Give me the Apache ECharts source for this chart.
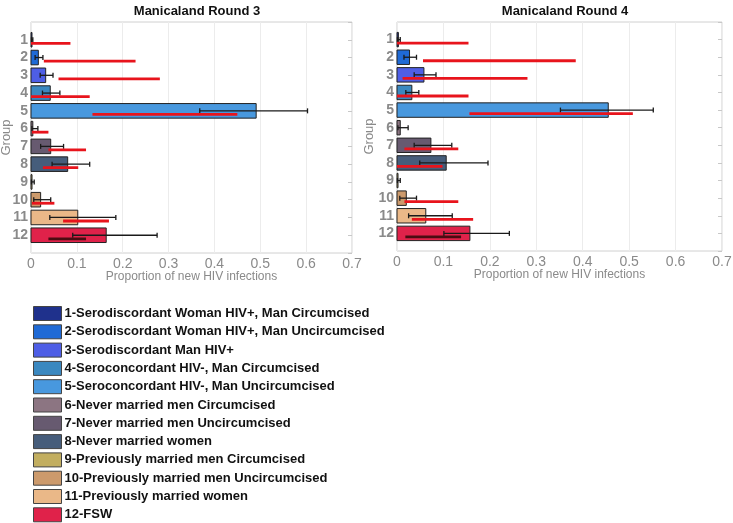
<!DOCTYPE html>
<html><head><meta charset="utf-8">
<script src="https://cdn.jsdelivr.net/npm/echarts@6/dist/echarts.min.js"></script>
<style>html,body{margin:0;padding:0;background:#fff}#c{width:733px;height:523px}</style>
</head><body><div id="c"></div>
<script>
const groups = [1,2,3,4,5,6,7,8,9,10,11,12];
const legendLabels = [
  '1-Serodiscordant Woman HIV+, Man Circumcised',
  '2-Serodiscordant Woman HIV+, Man Uncircumcised',
  '3-Serodiscordant Man HIV+',
  '4-Seroconcordant HIV-, Man Circumcised',
  '5-Seroconcordant HIV-, Man Uncircumcised',
  '6-Never married men Circumcised',
  '7-Never married men Uncircumcised',
  '8-Never married women',
  '9-Previously married men Circumcised',
  '10-Previously married men Uncircumcised',
  '11-Previously married women',
  '12-FSW'
];
const groupColors = ['#1f318c','#1f6ad6','#4e5ee6','#3a88c0','#4898de','#8c7582','#675a70','#465d7b','#c2ae60','#cc9a6c','#eab888','#e0224a'];
const xTicks = [0,0.1,0.2,0.3,0.4,0.5,0.6,0.7];

// Round 3
const r3Mean  = [0.002,0.016,0.032,0.042,0.491,0.004,0.043,0.080,0.002,0.021,0.102,0.164];
const r3ErrLo = [0.001,0.009,0.020,0.025,0.368,0.002,0.021,0.046,0.001,0.006,0.041,0.091];
const r3ErrHi = [0.004,0.026,0.048,0.063,0.603,0.015,0.071,0.128,0.007,0.043,0.185,0.275];
const r3ObsLo = [0.000,0.028,0.060,0.000,0.134,0.002,0.038,0.026,null,0.002,0.070,0.038];
const r3ObsHi = [0.086,0.228,0.281,0.128,0.450,0.038,0.120,0.103,null,0.051,0.170,0.120];
// Round 4
const r4Mean  = [0.003,0.027,0.058,0.032,0.455,0.007,0.073,0.106,0.001,0.020,0.062,0.157];
const r4ErrLo = [0.001,0.015,0.037,0.019,0.352,0.002,0.037,0.049,0.001,0.006,0.025,0.101];
const r4ErrHi = [0.007,0.042,0.084,0.047,0.552,0.024,0.118,0.196,0.007,0.042,0.119,0.242];
const r4ObsLo = [0.000,0.056,0.012,0.000,0.156,null,0.016,0.000,null,0.016,0.032,0.018];
const r4ObsHi = [0.154,0.385,0.281,0.154,0.508,null,0.132,0.098,null,0.132,0.164,0.138];

const panels = [
  {title:'Manicaland Round 3', mean:r3Mean, lo:r3ErrLo, hi:r3ErrHi, olo:r3ObsLo, ohi:r3ObsHi},
  {title:'Manicaland Round 4', mean:r4Mean, lo:r4ErrLo, hi:r4ErrHi, olo:r4ObsLo, ohi:r4ObsHi}
];

const chart = echarts.init(document.getElementById('c'));
const gridPos = [
  {left:31, right:381, top:22, height:231},
  {left:397, right:11, top:22, height:229}
];
const yNameGap = [18, 21];
const grey = '#8a8a8a';

const grids = [], xAxes = [], yAxes = [], series = [], titles = [];
panels.forEach((p, pi) => {
  grids.push(Object.assign({show:true, borderColor:'#d0d0d0', borderWidth:1, backgroundColor:'#fff',
    containLabel:false, outerBoundsMode:'none'}, gridPos[pi]));
  titles.push({text:p.title, left: pi===0 ? 192 : 560, top:0, textAlign:'center',
    textStyle:{fontFamily:'Liberation Sans', fontWeight:'bold', fontSize:13, color:'#111'}});
  xAxes.push({type:'value', gridIndex:pi, min:0, max:0.7, interval:0.1,
    name:'Proportion of new HIV infections', nameLocation:'middle', nameGap:18, nameMoveOverlap:false,
    nameTextStyle:{color:grey, fontFamily:'Liberation Sans', fontSize:12},
    axisLine:{show:false}, axisTick:{show:false},
    axisLabel:{color:grey, fontFamily:'Liberation Sans', fontSize:14, margin:4,
      formatter:v=>String(Math.round(v*10)/10)},
    splitLine:{show:true, lineStyle:{color:'#ececec', width:1}}});
  yAxes.push({type:'value', gridIndex:pi, min:0, max:13, interval:1, inverse:true,
    name:'Group', nameLocation:'middle', nameGap:yNameGap[pi], nameRotate:90, nameMoveOverlap:false,
    nameTextStyle:{color:grey, fontFamily:'Liberation Sans', fontSize:13},
    axisLine:{show:false}, axisTick:{show:false}, splitLine:{show:false},
    axisLabel:{color:grey, fontFamily:'Liberation Sans', fontWeight:'bold', fontSize:14, margin:3,
      formatter:v=>(v>=1 && v<=12) ? String(v) : ''}});
  // right-side ticks
  yAxes.push({type:'value', gridIndex:pi, min:0, max:13, interval:1, inverse:true, position:'right',
    axisLine:{show:false}, axisLabel:{show:false}, splitLine:{show:false},
    axisTick:{show:true, inside:true, length:4, lineStyle:{color:'#c8c8c8'}}});
  const yIdx = pi*2;
  groups.forEach((g, gi) => {
    series.push({type:'custom', name:legendLabels[gi], xAxisIndex:pi, yAxisIndex:yIdx,
      itemStyle:{color:groupColors[gi], borderColor:'#333', borderWidth:1},
      encode:{x:0, y:1}, data:[[p.mean[gi], g]], z:2,
      renderItem:(params, api) => {
        const y = api.value(1), v = api.value(0);
        const a = api.coord([0, y]), b = api.coord([v, y]);
        const h = api.size([0, 0.82])[1];
        return {type:'rect', shape:{x:a[0], y:a[1]-h/2, width:Math.max(b[0]-a[0],1), height:h},
          style:{fill:api.visual('color'), stroke:'#222', lineWidth:1}};
      }});
  });
  // model error bars
  series.push({type:'custom', name:'err'+pi, xAxisIndex:pi, yAxisIndex:yIdx, z:4,
    encode:{x:[1,2], y:0},
    data:groups.map((g,gi)=>[g, p.lo[gi], p.hi[gi]]),
    renderItem:(params, api) => {
      const y = api.value(0);
      const a = api.coord([api.value(1), y]), b = api.coord([api.value(2), y]);
      const c = 2.5;
      const st = {stroke:'#1a1a1a', lineWidth:1.3};
      return {type:'group', children:[
        {type:'line', shape:{x1:a[0], y1:a[1], x2:b[0], y2:b[1]}, style:st},
        {type:'line', shape:{x1:a[0], y1:a[1]-c, x2:a[0], y2:a[1]+c}, style:st},
        {type:'line', shape:{x1:b[0], y1:b[1]-c, x2:b[0], y2:b[1]+c}, style:st}
      ]};
    }});
  // observed ranges (red)
  series.push({type:'custom', name:'obs'+pi, xAxisIndex:pi, yAxisIndex:yIdx, z:5,
    encode:{x:[1,2], y:0},
    data:groups.map((g,gi)=>[g, p.olo[gi], p.ohi[gi]]).filter(d=>d[1]!==null),
    renderItem:(params, api) => {
      const y = api.value(0) + 0.2;
      const a = api.coord([api.value(1), y]), b = api.coord([api.value(2), y]);
      const col = api.value(0) === 12 ? '#4a0c12' : '#e8141c';
      return {type:'line', shape:{x1:a[0], y1:a[1], x2:b[0], y2:b[1]}, style:{stroke:col, lineWidth:2.8}};
    }});
});

chart.setOption({
  animation:false,
  title:titles,
  grid:grids,
  xAxis:xAxes,
  yAxis:yAxes,
  legend:{data:legendLabels, orient:'vertical', left:33, top:306, height:240, padding:0,
    itemWidth:28, itemHeight:14, itemGap:3.3,
    icon:'rect', selectedMode:false,
    itemStyle:{borderColor:'#444', borderWidth:1},
    textStyle:{fontFamily:'Liberation Sans', fontWeight:'bold', fontSize:13, color:'#111', padding:[0,0,0,-2]}},
  series:series
});
</script></body></html>
